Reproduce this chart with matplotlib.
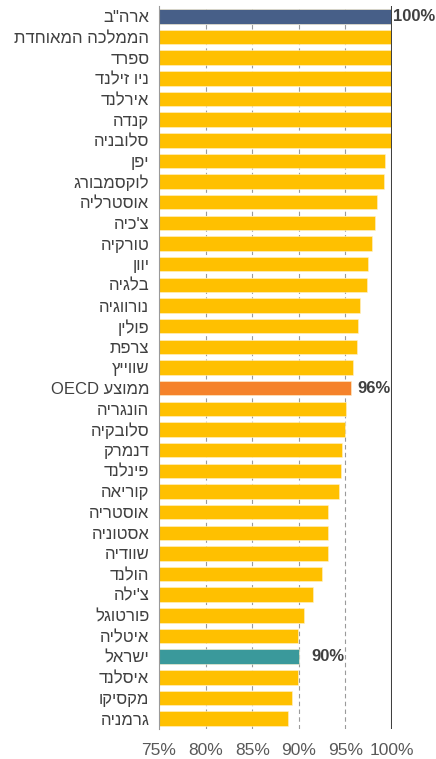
import re
import matplotlib
matplotlib.use("Agg")
import matplotlib.pyplot as plt

plt.rcParams['font.family'] = ['Liberation Sans', 'DejaVu Sans']

# countries, top to bottom (logical Hebrew order)
countries = ['ארה"ב', "הממלכה המאוחדת", "ספרד", "ניו זילנד", "אירלנד", "קנדה",
             "סלובניה", "יפן", "לוקסמבורג", "אוסטרליה", "צ'כיה", "טורקיה", "יוון",
             "בלגיה", "נורווגיה", "פולין", "צרפת", "שווייץ", "ממוצע OECD", "הונגריה",
             "סלובקיה", "דנמרק", "פינלנד", "קוריאה", "אוסטריה", "אסטוניה", "שוודיה",
             "הולנד", "צ'ילה", "פורטוגל", "איטליה", "ישראל", "איסלנד", "מקסיקו", "גרמניה"]
values = [100, 99.9, 99.9, 99.9, 99.9, 99.9, 99.9, 99.3, 99.1, 98.4, 98.2, 97.9, 97.4,
          97.3, 96.6, 96.4, 96.2, 95.8, 95.6, 95.1, 95.0, 94.6, 94.5, 94.3, 93.1, 93.1,
          93.1, 92.5, 91.5, 90.6, 89.9, 90.0, 89.9, 89.3, 88.8]
highlight = {'ארה"ב': "#475F88", "ממוצע OECD": "#F5822A", "ישראל": "#3A999B"}
value_labels = {'ארה"ב': ("100%", 100.1), "ממוצע OECD": ("96%", 96.25), "ישראל": ("90%", 91.35)}
xticks = [75, 80, 85, 90, 95, 100]


def visual(s):
    # reverse for right-to-left display, keeping latin runs readable
    r = s[::-1]
    return re.sub(r"[A-Za-z0-9]+", lambda m: m.group(0)[::-1], r)


fig = plt.figure(figsize=(4.36, 7.59), dpi=100)
ax = fig.add_axes([159/436, 1-729/759, 233/436, 723/759])

ypos = list(range(len(countries)))
colors = [highlight.get(c, "#FFC000") for c in countries]
widths = [v - 75 for v in values]
ax.barh(ypos, widths, left=75, height=0.70, color=colors, edgecolor="#FFF2CC",
        linewidth=0.4, zorder=2)

for x in xticks[1:-1]:
    ax.axvline(x, color="#9A9A9A", lw=0.8, ls=(0, (4, 3)), zorder=1)
ax.axvline(100, color="#404040", lw=2.2, zorder=3)

ax.set_xlim(75, 100)
ax.set_ylim(len(countries) - 0.5, -0.5)

for i, c in enumerate(countries):
    if c in value_labels:
        txt, xv = value_labels[c]
        ax.text(xv, i, txt, ha="left", va="center", fontsize=12, fontweight="bold",
                color="#404040", clip_on=False, zorder=4)

ax.set_yticks(ypos)
ax.set_yticklabels([visual(c) for c in countries], fontsize=12, color="#404040")
ax.set_xticks(xticks)
ax.set_xticklabels([f"{x}%" for x in xticks], fontsize=12.5, color="#595959")
ax.tick_params(axis="both", length=0)
ax.tick_params(axis="y", pad=7)
ax.tick_params(axis="x", pad=10)

for s in ["top", "right", "bottom"]:
    ax.spines[s].set_visible(False)
ax.spines["left"].set_color("#9A9A9A")
ax.spines["left"].set_linewidth(0.8)

fig.savefig("out.png", dpi=100)
